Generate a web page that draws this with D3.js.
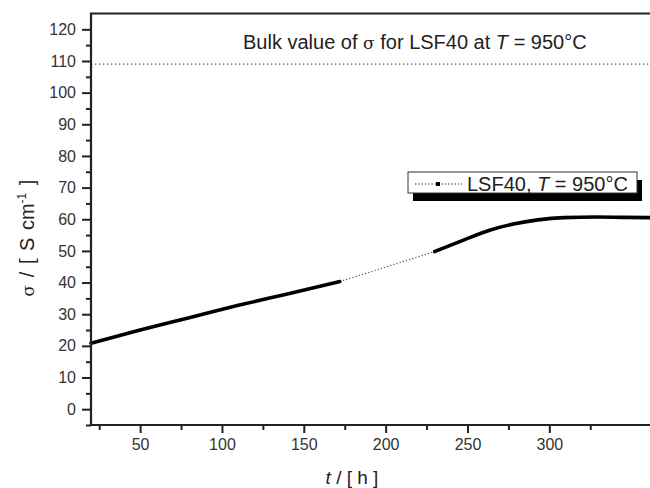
<!DOCTYPE html>
<html>
<head>
<meta charset="utf-8">
<script src="https://cdn.jsdelivr.net/npm/d3@7"></script>
<style>
  body { margin: 0; background: #fff; }
  svg { display: block; font-family: "Liberation Sans", Arial, sans-serif; }
</style>
</head>
<body>
<svg id="chart" width="650" height="488"></svg>
<script>
"use strict";

var earlyTime = [20, 50, 80, 110, 140, 172];
var earlySigma = [20.8, 25.0, 28.9, 32.8, 36.4, 40.3];

var gapTime = [172, 230];
var gapSigma = [40.3, 49.8];

var lateTime = [230, 248, 264, 278, 293, 309, 329, 345, 362];
var lateSigma = [49.8, 53.5, 56.6, 58.5, 59.8, 60.5, 60.7, 60.6, 60.5];

var bulkSigma = 109;

var xTicks = [50, 100, 150, 200, 250, 300];
var xMinorTicks = [25, 75, 125, 175, 225, 275, 325];
var yTicks = [0, 10, 20, 30, 40, 50, 60, 70, 80, 90, 100, 110, 120];
var yMinorTicks = [-5, 5, 15, 25, 35, 45, 55, 65, 75, 85, 95, 105, 115];

var svg = d3.select("#chart");

var xRange = d3.scaleLinear().domain([20, 361.5]).range([91, 650]);
var yRange = d3.scaleLinear().domain([-5, 125]).range([425, 13.5]);

function pairs(ts, vs) {
  return ts.map(function (t, i) {
    return { t: t, v: vs[i] };
  });
}

var line = d3
  .line()
  .x(function (d) { return xRange(d.t); })
  .y(function (d) { return yRange(d.v); })
  .curve(d3.curveMonotoneX);

// bulk value reference line
svg
  .append("line")
  .attr("x1", xRange.range()[0])
  .attr("x2", xRange.range()[1])
  .attr("y1", yRange(bulkSigma))
  .attr("y2", yRange(bulkSigma))
  .attr("stroke", "#555")
  .attr("stroke-width", 1.3)
  .attr("stroke-dasharray", "1.3,2.7");

svg
  .append("text")
  .attr("x", 243)
  .attr("y", 49)
  .attr("font-size", 20)
  .attr("fill", "#222")
  .html('Bulk value of <tspan font-family="DejaVu Serif" font-size="17">σ</tspan> for LSF40 at <tspan font-style="italic">T</tspan> = 950°C');

// data curves
svg
  .append("path")
  .attr("d", line(pairs(gapTime, gapSigma)))
  .attr("fill", "none")
  .attr("stroke", "#666")
  .attr("stroke-width", 1.3)
  .attr("stroke-dasharray", "1.3,2");

[pairs(earlyTime, earlySigma), pairs(lateTime, lateSigma)].forEach(function (seg) {
  svg
    .append("path")
    .attr("d", line(seg))
    .attr("fill", "none")
    .attr("stroke", "#000")
    .attr("stroke-width", 3.6)
    .attr("stroke-linecap", "round");
});

// axes
svg
  .append("g")
  .attr("transform", "translate(0," + yRange.range()[0] + ")")
  .call(d3.axisBottom(xRange).tickValues(xTicks).tickSize(8).tickPadding(6));

svg
  .append("g")
  .attr("transform", "translate(0," + yRange.range()[0] + ")")
  .call(d3.axisBottom(xRange).tickValues(xMinorTicks).tickSize(5).tickFormat(""));

svg
  .append("g")
  .attr("transform", "translate(" + xRange.range()[0] + ",0)")
  .call(d3.axisLeft(yRange).tickValues(yTicks).tickSize(9).tickPadding(6));

svg
  .append("g")
  .attr("transform", "translate(" + xRange.range()[0] + ",0)")
  .call(d3.axisLeft(yRange).tickValues(yMinorTicks).tickSize(5).tickFormat(""));

svg.selectAll(".domain").remove();
svg.selectAll(".tick line").attr("stroke", "#222").attr("stroke-width", 2);
svg
  .selectAll(".tick text")
  .attr("font-size", 16)
  .attr("fill", "#333")
  .attr("font-family", "Liberation Sans, Arial, sans-serif");

// frame
svg
  .append("path")
  .attr(
    "d",
    "M" + xRange.range()[1] + "," + yRange.range()[1] +
      "H" + xRange.range()[0] +
      "V" + yRange.range()[0] +
      "H" + xRange.range()[1]
  )
  .attr("fill", "none")
  .attr("stroke", "#222")
  .attr("stroke-width", 2.2);

// axis titles
svg
  .append("text")
  .attr("x", 352)
  .attr("y", 484)
  .attr("text-anchor", "middle")
  .attr("font-size", 19)
  .attr("fill", "#222")
  .html('<tspan font-style="italic">t</tspan> / [ h ]');

svg
  .append("text")
  .attr("transform", "translate(34,238) rotate(-90)")
  .attr("text-anchor", "middle")
  .attr("font-size", 20)
  .attr("word-spacing", 2)
  .attr("fill", "#222")
  .html('<tspan font-family="DejaVu Serif" font-size="17">σ</tspan> / [ S cm<tspan font-size="12" dy="-8">-1</tspan><tspan dy="8"> ]</tspan>');

// legend with drop shadow
var legend = svg.append("g").attr("transform", "translate(408,172)");
legend
  .append("rect")
  .attr("x", 5)
  .attr("y", 8)
  .attr("width", 229)
  .attr("height", 21)
  .attr("fill", "#000");
legend
  .append("rect")
  .attr("width", 229)
  .attr("height", 21)
  .attr("fill", "#fff")
  .attr("stroke", "#333")
  .attr("stroke-width", 1);
legend
  .append("line")
  .attr("x1", 7)
  .attr("x2", 54)
  .attr("y1", 12)
  .attr("y2", 12)
  .attr("stroke", "#666")
  .attr("stroke-width", 1.3)
  .attr("stroke-dasharray", "1.3,2");
legend
  .append("rect")
  .attr("x", 28)
  .attr("y", 10)
  .attr("width", 4)
  .attr("height", 4)
  .attr("fill", "#000");
legend
  .append("text")
  .attr("x", 59)
  .attr("y", 18.5)
  .attr("font-size", 20)
  .attr("fill", "#222")
  .html('LSF40, <tspan font-style="italic">T</tspan> = 950°C');
</script>
</body>
</html>
